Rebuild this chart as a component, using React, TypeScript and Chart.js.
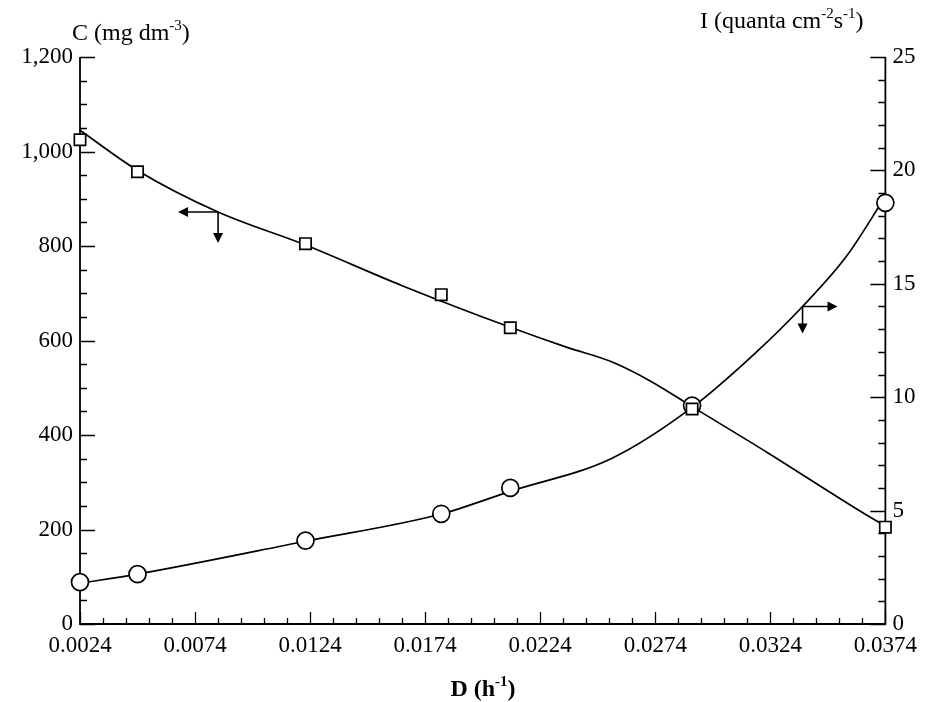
import React, { useEffect, useRef } from "react";
import { Chart, registerables } from "chart.js";

Chart.register(...registerables);

// ---- data ----
const dValues = [0.0024, 0.0049, 0.0122, 0.0181, 0.0211, 0.029, 0.0374];
const cValues = [1025, 957, 805, 697, 627, 455, 205];
const iValues = [1.85, 2.2, 3.68, 4.86, 6.0, 9.63, 18.57];

// hand-drawn fitted curves
const cFitD = [0.0024, 0.0049, 0.0084, 0.0122, 0.0164, 0.0211, 0.0236, 0.0255, 0.0272, 0.029, 0.0323, 0.0361, 0.0374];
const cFitValues = [1045, 960, 872, 802, 716, 628, 585, 555, 514, 460, 362, 245, 207];
const iFitD = [0.0024, 0.0049, 0.0122, 0.0181, 0.0211, 0.0255, 0.029, 0.0317, 0.0338, 0.0357, 0.0374];
const iFitValues = [1.8, 2.2, 3.65, 4.85, 5.85, 7.3, 9.55, 11.9, 14.0, 16.2, 18.85];

// tick labels
const xTickValues = [0.0024, 0.0074, 0.0124, 0.0174, 0.0224, 0.0274, 0.0324, 0.0374];
const cTickValues = [0, 200, 400, 600, 800, 1000, 1200];
const iTickValues = [0, 5, 10, 15, 20, 25];
const xMinorStep = 0.001;
const cMinorStep = 50;
const iMinorStep = 1;

// arrow anchors (on the curves)
const arrowC = { d: 0.0084, v: 872 };
const arrowI = { d: 0.0338, v: 14.0 };

const FONT = "'Liberation Serif', 'Times New Roman', serif";

type Part = { t: string; sup?: boolean };

function drawRich(ctx: CanvasRenderingContext2D, parts: Part[], x: number, y: number, size: number, align: "left" | "center", bold = false) {
  const w = bold ? "bold " : "";
  const supSize = Math.round(size * 0.62);
  let total = 0;
  for (const p of parts) {
    ctx.font = `${w}${p.sup ? supSize : size}px ${FONT}`;
    total += ctx.measureText(p.t).width;
  }
  let cx = align === "center" ? x - total / 2 : x;
  ctx.textAlign = "left";
  ctx.textBaseline = "alphabetic";
  ctx.fillStyle = "#000";
  for (const p of parts) {
    ctx.font = `${w}${p.sup ? supSize : size}px ${FONT}`;
    ctx.fillText(p.t, cx, p.sup ? y - size * 0.4 : y);
    cx += ctx.measureText(p.t).width;
  }
}

const axesPlugin = {
  id: "axesPlugin",
  beforeDatasetsDraw(chart: any) {
    const { ctx, chartArea: a, scales } = chart;
    const x = scales.x, yl = scales.yC, yr = scales.yI;
    ctx.save();
    ctx.strokeStyle = "#000";
    ctx.lineWidth = 1.8;
    ctx.beginPath();
    ctx.moveTo(a.left, a.top);
    ctx.lineTo(a.left, a.bottom);
    ctx.lineTo(a.right, a.bottom);
    ctx.lineTo(a.right, a.top);
    ctx.stroke();
    ctx.lineWidth = 1.3;
    ctx.beginPath();
    // left ticks
    for (let v = yl.min; v <= yl.max + 1e-9; v += cMinorStep) {
      const py = Math.round(yl.getPixelForValue(v)) + 0.5;
      const len = cTickValues.includes(v) ? 15 : 7;
      ctx.moveTo(a.left, py);
      ctx.lineTo(a.left + len, py);
    }
    // right ticks
    for (let v = yr.min; v <= yr.max + 1e-9; v += iMinorStep) {
      const py = Math.round(yr.getPixelForValue(v)) + 0.5;
      const len = iTickValues.includes(v) ? 15 : 7;
      ctx.moveTo(a.right, py);
      ctx.lineTo(a.right - len, py);
    }
    // bottom ticks
    const n = Math.round((x.max - x.min) / xMinorStep);
    for (let i = 0; i <= n; i++) {
      const px = Math.round(x.getPixelForValue(x.min + i * xMinorStep)) + 0.5;
      const len = i % 5 === 0 ? 12 : 6;
      ctx.moveTo(px, a.bottom);
      ctx.lineTo(px, a.bottom - len);
    }
    ctx.stroke();
    ctx.restore();
  },
  afterDraw(chart: any) {
    const { ctx, scales } = chart;
    ctx.save();
    // axis titles
    drawRich(ctx, [{ t: "C (mg dm" }, { t: "-3", sup: true }, { t: ")" }], 72, 40, 24, "left");
    drawRich(ctx, [{ t: "I (quanta cm" }, { t: "-2", sup: true }, { t: "s" }, { t: "-1", sup: true }, { t: ")" }], 700, 28, 24, "left");
    drawRich(ctx, [{ t: "D (h" }, { t: "-1", sup: true }, { t: ")" }], 483, 696, 24, "center", true);

    // arrows
    const x = scales.x, yl = scales.yC, yr = scales.yI;
    ctx.strokeStyle = "#000";
    ctx.fillStyle = "#000";
    ctx.lineWidth = 1.6;
    const head = (tx: number, ty: number, dx: number, dy: number) => {
      const L = 10, W = 5;
      const bx = tx - dx * L, by = ty - dy * L;
      ctx.beginPath();
      ctx.moveTo(tx, ty);
      ctx.lineTo(bx - dy * W, by + dx * W);
      ctx.lineTo(bx + dy * W, by - dx * W);
      ctx.closePath();
      ctx.fill();
    };
    const ax = x.getPixelForValue(arrowC.d), ay = yl.getPixelForValue(arrowC.v);
    ctx.beginPath();
    ctx.moveTo(ax, ay);
    ctx.lineTo(ax - 38, ay);
    ctx.moveTo(ax, ay);
    ctx.lineTo(ax, ay + 28);
    ctx.stroke();
    head(ax - 40, ay, -1, 0);
    head(ax, ay + 31, 0, 1);

    const bx = x.getPixelForValue(arrowI.d), by = yr.getPixelForValue(arrowI.v);
    ctx.beginPath();
    ctx.moveTo(bx, by);
    ctx.lineTo(bx + 32, by);
    ctx.moveTo(bx, by);
    ctx.lineTo(bx, by + 24);
    ctx.stroke();
    head(bx + 35, by, 1, 0);
    head(bx, by + 27, 0, 1);
    ctx.restore();
  },
};

export default function App() {
  const ref = useRef<HTMLCanvasElement | null>(null);

  useEffect(() => {
    if (!ref.current) return;
    const tickFont = { family: FONT, size: 23 };
    const chart = new Chart(ref.current, {
      type: "line",
      data: {
        datasets: [
          {
            label: "C points",
            data: dValues.map((d, i) => ({ x: d, y: cValues[i] })),
            yAxisID: "yC",
            showLine: false,
            pointStyle: "rect",
            pointRadius: 8,
            pointBorderWidth: 1.7,
            pointBorderColor: "#000",
            pointBackgroundColor: "#fff",
            clip: false,
            order: 0,
          },
          {
            label: "I points",
            data: dValues.map((d, i) => ({ x: d, y: iValues[i] })),
            yAxisID: "yI",
            showLine: false,
            pointStyle: "circle",
            pointRadius: 8.5,
            pointBorderWidth: 1.7,
            pointBorderColor: "#000",
            pointBackgroundColor: "#fff",
            clip: false,
            order: 0,
          },
          {
            label: "C fit",
            data: cFitD.map((d, i) => ({ x: d, y: cFitValues[i] })),
            yAxisID: "yC",
            borderColor: "#000",
            borderWidth: 1.7,
            pointRadius: 0,
            cubicInterpolationMode: "monotone",
            clip: false,
            order: 1,
          },
          {
            label: "I fit",
            data: iFitD.map((d, i) => ({ x: d, y: iFitValues[i] })),
            yAxisID: "yI",
            borderColor: "#000",
            borderWidth: 1.7,
            pointRadius: 0,
            cubicInterpolationMode: "monotone",
            clip: false,
            order: 1,
          },
        ],
      },
      options: {
        animation: false,
        responsive: true,
        maintainAspectRatio: false,
        layout: { padding: { top: 57, left: 0, right: 0, bottom: 0 } },
        plugins: { legend: { display: false }, tooltip: { enabled: false } },
        scales: {
          x: {
            type: "linear",
            min: xTickValues[0],
            max: xTickValues[xTickValues.length - 1],
            border: { display: false },
            grid: { display: false, drawTicks: false },
            afterBuildTicks: (s: any) => {
              s.ticks = xTickValues.map((v) => ({ value: v }));
            },
            afterFit: (s: any) => {
              s.height = 78;
            },
            ticks: {
              font: tickFont,
              color: "#000",
              padding: 8,
              maxRotation: 0,
              autoSkip: false,
              callback: (v: any) => Number(v).toFixed(4),
            },
          },
          yC: {
            type: "linear",
            position: "left",
            min: 0,
            max: 1200,
            border: { display: false },
            grid: { display: false, drawTicks: false },
            afterBuildTicks: (s: any) => {
              s.ticks = cTickValues.map((v) => ({ value: v }));
            },
            afterFit: (s: any) => {
              s.width = 80;
            },
            ticks: {
              font: tickFont,
              color: "#000",
              padding: 7,
              callback: (v: any) => Number(v).toLocaleString("en-US"),
            },
          },
          yI: {
            type: "linear",
            position: "right",
            min: 0,
            max: 25,
            border: { display: false },
            grid: { display: false, drawTicks: false },
            afterBuildTicks: (s: any) => {
              s.ticks = iTickValues.map((v) => ({ value: v }));
            },
            afterFit: (s: any) => {
              s.width = 39;
            },
            ticks: {
              font: tickFont,
              color: "#000",
              padding: 7,
              callback: (v: any) => String(v),
            },
          },
        },
      } as any,
      plugins: [axesPlugin],
    });
    return () => chart.destroy();
  }, []);

  return (
    <div style={{ position: "absolute", left: 0, top: 0, width: 925, height: 702, background: "#fff" }}>
      <canvas ref={ref} />
    </div>
  );
}
